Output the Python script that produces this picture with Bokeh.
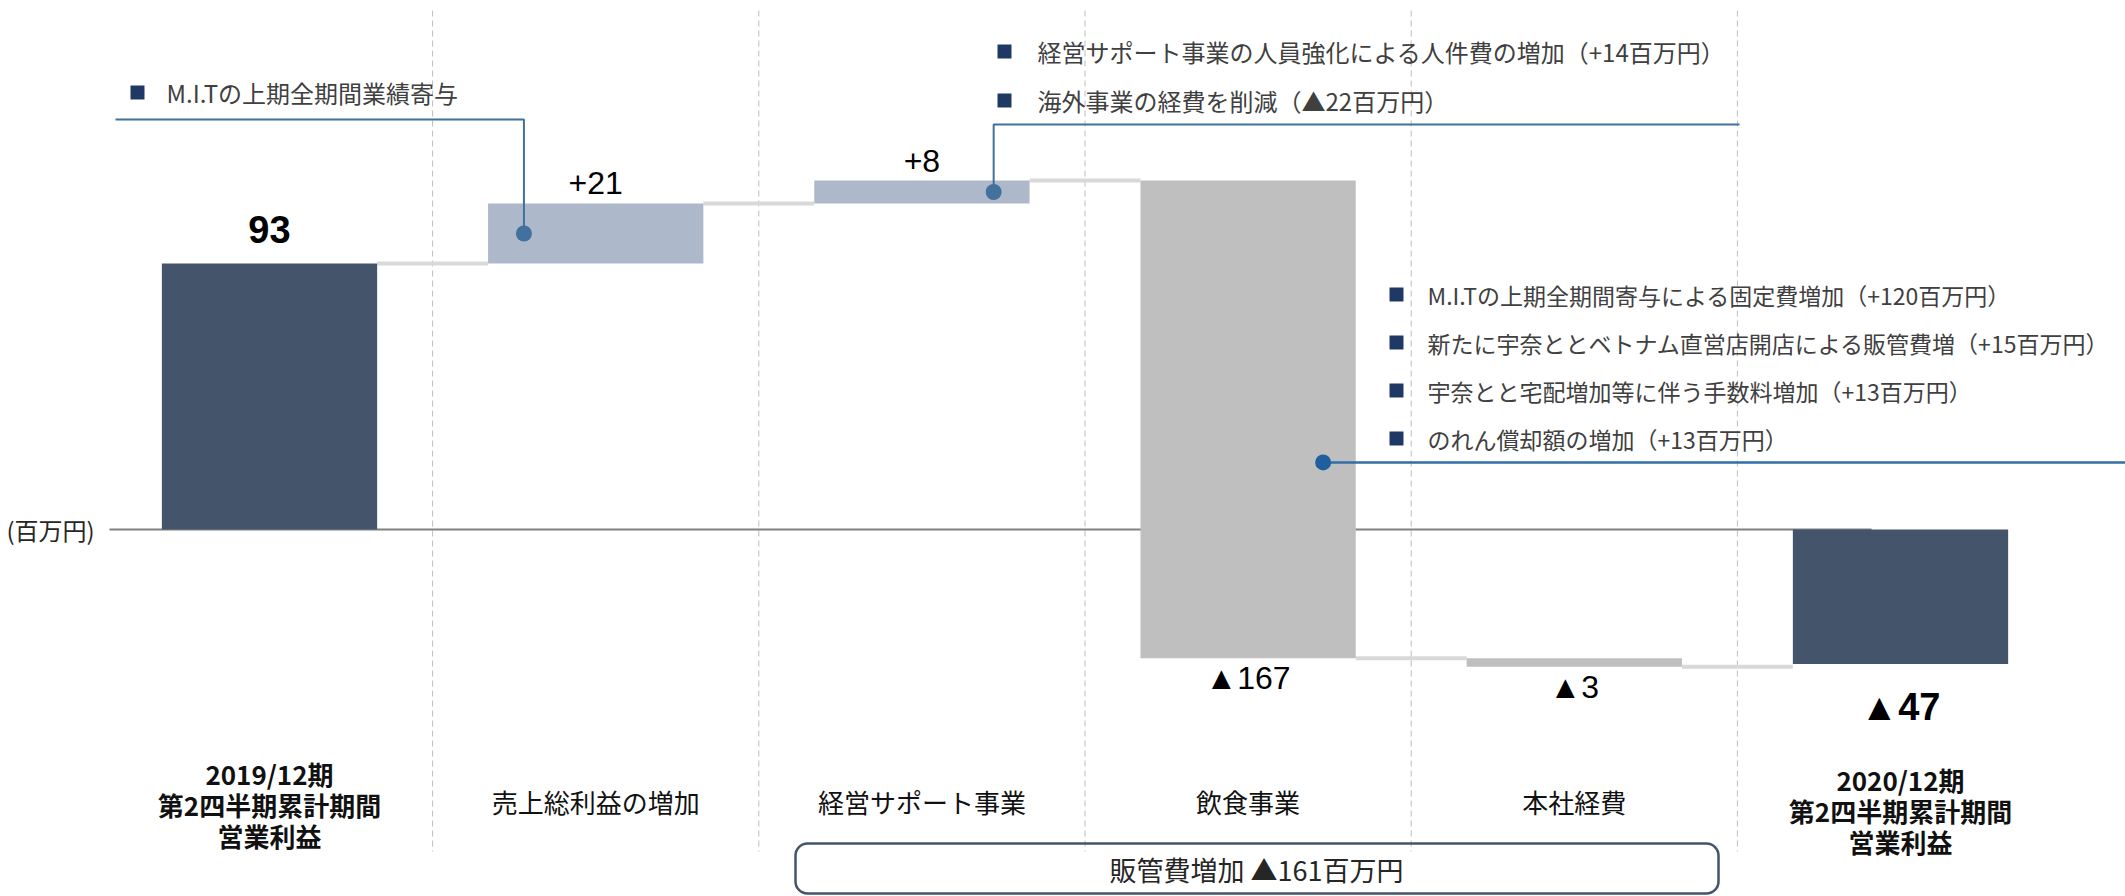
from bokeh.plotting import figure
from bokeh.models import Range1d, Label, BoxAnnotation
from bokeh.embed import file_html
from bokeh.resources import INLINE

# ---------------- data ----------------
categories = [
    "2019/12期\n第2四半期累計期間\n営業利益",
    "売上総利益の増加",
    "経営サポート事業",
    "飲食事業",
    "本社経費",
    "2020/12期\n第2四半期累計期間\n営業利益",
]
values = [93, 21, 8, -167, -3, -47]
kinds = ["total", "delta", "delta", "delta", "delta", "total"]
value_labels = ["93", "+21", "+8", "▲167", "▲3", "▲47"]
bar_colors = ["#44546a", "#adb9ca", "#adb9ca", "#bfbfbf", "#bfbfbf", "#44546a"]

callout_left = ["M.I.Tの上期全期間業績寄与"]
callout_top = [
    "経営サポート事業の人員強化による人件費の増加（+14百万円）",
    "海外事業の経費を削減（▲22百万円）",
]
callout_right = [
    "M.I.Tの上期全期間寄与による固定費増加（+120百万円）",
    "新たに宇奈ととベトナム直営店開店による販管費増（+15百万円）",
    "宇奈とと宅配増加等に伴う手数料増加（+13百万円）",
    "のれん償却額の増加（+13百万円）",
]
unit_label = "(百万円)"
sga_label = "販管費増加 ▲161百万円"

# ---------------- layout constants ----------------
W, H = 2125, 896
PX_PER_X = 326.2
PX_PER_Y = 2.86
FIRST_PX = 269
ZERO_PY = 529
BAR_W = 0.66

x_start = -FIRST_PX / PX_PER_X
x_end = (W - FIRST_PX) / PX_PER_X
y_end = ZERO_PY / PX_PER_Y
y_start = -(H - ZERO_PY) / PX_PER_Y


def X(px):
    return x_start + px / PX_PER_X


def Y(py):
    return y_end - py / PX_PER_Y


JP = "Noto Sans CJK JP"
NUM = "Liberation Sans"

p = figure(width=W, height=H, x_range=Range1d(x_start, x_end), y_range=Range1d(y_start, y_end),
           output_backend="svg", toolbar_location=None, min_border=0,
           x_axis_location=None, y_axis_location=None)
p.xgrid.visible = False
p.ygrid.visible = False
p.outline_line_color = None
p.background_fill_color = "white"
p.border_fill_color = "white"

# ---------------- waterfall geometry ----------------
bottoms, tops, levels = [], [], []
cum = 0
for v, k in zip(values, kinds):
    if k == "total":
        b, t = min(0, v), max(0, v)
        cum = v
    else:
        b, t = min(cum, cum + v), max(cum, cum + v)
        cum += v
    bottoms.append(b)
    tops.append(t)
    levels.append(cum)
idx = list(range(len(values)))

# separators
sep_x = [i + 0.5 for i in idx[:-1]]
p.segment(x0=sep_x, x1=sep_x, y0=[Y(10)] * len(sep_x), y1=[Y(851)] * len(sep_x),
          line_color="#bdbdbd", line_width=1, line_dash="6 4")

# zero line
p.segment(x0=[X(109)], x1=[X(1871)], y0=[0], y1=[0], line_color="#808080", line_width=2)

# connectors
p.segment(x0=[i + BAR_W / 2 for i in idx[:-1]], x1=[i + 1 - BAR_W / 2 for i in idx[:-1]],
          y0=levels[:-1], y1=levels[:-1], line_color="#d9d9d9", line_width=4)

# bars
p.vbar(x=idx, bottom=bottoms, top=tops, width=BAR_W, fill_color=bar_colors, line_color=None)

# value labels
label_offsets = [34, 20, 20, 20, 20, 43]
for i, (v, txt) in enumerate(zip(values, value_labels)):
    if v > 0:
        ly = tops[i] + label_offsets[i] / PX_PER_Y
    else:
        ly = bottoms[i] - label_offsets[i] / PX_PER_Y
    bold = kinds[i] == "total"
    p.add_layout(Label(x=i, y=ly, text=txt, text_align="center", text_baseline="middle",
                       text_font=NUM, text_font_style="bold" if bold else "normal",
                       text_font_size="38px" if bold else "32px", text_color="black"))

# category labels
for i, c in enumerate(categories):
    bold = kinds[i] == "total"
    if bold:
        cy = Y(804) if i == 0 else Y(810)
    else:
        cy = Y(801)
    p.add_layout(Label(x=i, y=cy, text=c, text_align="center", text_baseline="middle",
                       text_font=JP, text_font_style="bold" if bold else "normal",
                       text_font_size="26px", text_color="#111111", text_line_height=0.84))

# unit label
p.add_layout(Label(x=X(6), y=Y(529), text=unit_label, text_align="left", text_baseline="middle",
                   text_font=JP, text_font_size="24px", text_color="#262626"))

# ---------------- callouts ----------------
CALLOUT = "#41719c"
SQ = "#1f3864"
TXT = "#404040"

# left callout (bar 1)
d1x, d1y = 1 - 0.22, (bottoms[1] + tops[1]) / 2
p.line(x=[X(115), d1x, d1x], y=[Y(119), Y(119), d1y], line_color=CALLOUT, line_width=2)
# top callout (bar 2)
d2x, d2y = 2 + 0.22, (bottoms[2] + tops[2]) / 2
p.line(x=[X(1739), d2x, d2x], y=[Y(124), Y(124), d2y], line_color=CALLOUT, line_width=2)
# right callout (bar 3)
d3x, d3y = 3 + 0.23, bottoms[3] + 0.41 * (tops[3] - bottoms[3])
p.line(x=[d3x, X(W)], y=[d3y, d3y], line_color="#2f6ea6", line_width=2.5)
p.scatter(x=[d1x, d2x], y=[d1y, d2y], size=16, marker="circle", fill_color=CALLOUT, line_color=None)
p.scatter(x=[d3x], y=[d3y], size=16, marker="circle", fill_color="#1f5f9f", line_color=None)


def bullets(texts, sq_px, txt_px, rows_py, size):
    p.scatter(x=[X(sq_px)] * len(texts), y=[Y(r) for r in rows_py], marker="square", size=14,
              fill_color=SQ, line_color=None)
    for t, r in zip(texts, rows_py):
        p.add_layout(Label(x=X(txt_px), y=Y(r), text=t, text_align="left", text_baseline="middle",
                           text_font=JP, text_font_size=size, text_color=TXT))


bullets(callout_left, 137, 166, [92], "24px")
bullets(callout_top, 1004, 1037, [51, 100], "24px")
bullets(callout_right, 1396, 1427, [294, 342, 390, 438], "23px")

# SG&A box
p.add_layout(BoxAnnotation(left=X(795), right=X(1718), top=Y(843), bottom=Y(893),
                           fill_color="white", fill_alpha=0, line_color="#44546a", line_alpha=1.0,
                           line_width=2.5, border_radius=12))
p.add_layout(Label(x=X(1256), y=Y(869), text=sga_label, text_align="center", text_baseline="middle",
                   text_font=JP, text_font_size="27px", text_color="#262626"))

open("out.html", "w").write(file_html(p, INLINE))
